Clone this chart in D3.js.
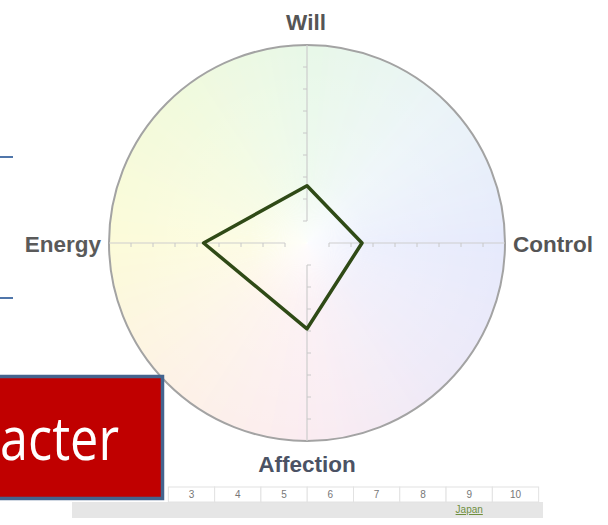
<!DOCTYPE html>
<html>
<head>
<meta charset="utf-8">
<script src="https://cdn.jsdelivr.net/npm/d3@7"></script>
<style>
  html, body { margin: 0; padding: 0; background: #fff; overflow: hidden; }
</style>
</head>
<body>
<div id="radar"></div>
<script>

// Set dimensions for the plot
const width = 608;
const height = 525;
const center = {x: 307, y: 243};
const radius = 198;

// Chart data
const axes = ['Will', 'Control', 'Affection', 'Energy'];
const scores = [2.6, 2.5, 3.9, 4.7];
const axisTicks = [1, 2, 3, 4, 5, 6, 7, 8];
const rulerTicks = [3, 4, 5, 6, 7, 8, 9, 10];

// Background tint around the circle (clockwise from the top)
const tintAngles = [0, 45, 90, 135, 180, 225, 270, 315, 360];
const tintColors = ['#e8f8e8', '#ebf4f8', '#e6eafc', '#eeeaf8', '#fbecf1',
  '#fdf2e6', '#fcfbd9', '#f2fadc', '#e8f8e8'];

const svg = d3
.select("#radar")
.append("svg")
.attr("width", width)
.attr("height", height)
.attr("viewBox", [0, 0, width, height]);

// Radial scale: 9 units from center to the rim
const rScale = d3.scaleLinear()
.domain([0, 9])
.range([0, radius]);

// Angle of each axis, clockwise from the top
const angle = d3.scalePoint()
.domain(axes)
.range([0, 2 * Math.PI * 3 / 4]);

/*

  Background

*/

const tint = d3.scaleLinear()
.domain(tintAngles)
.range(tintColors)
.interpolate(d3.interpolateRgb);

const arc = d3.arc()
.innerRadius(0)
.outerRadius(radius);

const slices = d3.range(0, 360, 2);
const bg = svg.append("g")
.attr("transform", `translate(${center.x},${center.y})`);

bg.selectAll("path")
.data(slices)
.enter()
.append("path")
.attr("d", d => arc({startAngle: (d - 1.2) * Math.PI / 180,
  endAngle: (d + 1.2) * Math.PI / 180}))
.attr("fill", d => tint(d));

// Whitish center fading out
const defs = svg.append("defs");
const glow = defs.append("radialGradient").attr("id", "glow");
glow.append("stop").attr("offset", "0%").attr("stop-color", "#fff").attr("stop-opacity", 0.8);
glow.append("stop").attr("offset", "30%").attr("stop-color", "#fff").attr("stop-opacity", 0.3);
glow.append("stop").attr("offset", "100%").attr("stop-color", "#fff").attr("stop-opacity", 0);

bg.append("circle")
.attr("r", radius)
.attr("fill", "url(#glow)");

bg.append("circle")
.attr("r", radius)
.attr("fill", "none")
.attr("stroke", "#a3a3a3")
.attr("stroke-width", 2);

/*

  Axes

*/

const axisG = bg.append("g");

axisG.selectAll(".axis")
.data(axes)
.enter()
.append("line")
.attr("class", "axis")
.attr("x1", d => rScale(1) * Math.sin(angle(d)))
.attr("y1", d => -rScale(1) * Math.cos(angle(d)))
.attr("x2", d => rScale(9) * Math.sin(angle(d)))
.attr("y2", d => -rScale(9) * Math.cos(angle(d)))
.attr("stroke", "#cdcdcd")
.attr("stroke-width", 1.2);

// Small ticks on one side of every axis
const tickData = [];
axes.forEach(a => axisTicks.forEach(t => tickData.push({axis: a, t: t})));

axisG.selectAll(".tick")
.data(tickData)
.enter()
.append("line")
.attr("class", "tick")
.attr("x1", d => rScale(d.t) * Math.sin(angle(d.axis)))
.attr("y1", d => -rScale(d.t) * Math.cos(angle(d.axis)))
.attr("x2", d => rScale(d.t) * Math.sin(angle(d.axis)) - 4 * Math.cos(angle(d.axis)))
.attr("y2", d => -rScale(d.t) * Math.cos(angle(d.axis)) + 4 * Math.abs(Math.sin(angle(d.axis))))
.attr("stroke", "#c8c8c8")
.attr("stroke-width", 1);

/*

  Shape

*/

const line = d3.lineRadial()
.angle((d, i) => angle(axes[i]))
.radius(d => rScale(d))
.curve(d3.curveLinearClosed);

bg.append("path")
.datum(scores)
.attr("d", line)
.attr("fill", "none")
.attr("stroke", "#2f4a16")
.attr("stroke-width", 3.5)
.attr("stroke-linejoin", "round");

/*

  Labels

*/

const labelPos = {
  'Will': {x: 306, y: 30, anchor: "middle", color: "#555"},
  'Control': {x: 513, y: 252, anchor: "start", color: "#555"},
  'Affection': {x: 307, y: 472, anchor: "middle", color: "#4b5264"},
  'Energy': {x: 101, y: 252, anchor: "end", color: "#5a5a5a"}
};

svg.selectAll(".label")
.data(axes)
.enter()
.append("text")
.attr("class", "label")
.attr("x", d => labelPos[d].x)
.attr("y", d => labelPos[d].y)
.attr("text-anchor", d => labelPos[d].anchor)
.attr("fill", d => labelPos[d].color)
.attr("font-family", "Liberation Sans, Arial, sans-serif")
.attr("font-weight", "bold")
.attr("font-size", "22.5px")
.text(d => d);

/*

  Ruler strip at the bottom

*/

const xRuler = d3.scaleLinear()
.domain([3, 10])
.range([191.5, 515.5]);
const cellW = xRuler(4) - xRuler(3);

svg.append("rect")
.attr("x", 72)
.attr("y", 502)
.attr("width", 471)
.attr("height", 16)
.attr("fill", "#e6e6e6");

svg.selectAll(".cell")
.data(rulerTicks)
.enter()
.append("rect")
.attr("class", "cell")
.attr("x", d => xRuler(d) - cellW / 2)
.attr("y", 487)
.attr("width", cellW)
.attr("height", 15)
.attr("fill", "#fff")
.attr("stroke", "#e2e2e2")
.attr("stroke-width", 1);

svg.selectAll(".num")
.data(rulerTicks)
.enter()
.append("text")
.attr("class", "num")
.attr("x", d => xRuler(d))
.attr("y", 498)
.attr("text-anchor", "middle")
.attr("fill", "#777")
.attr("font-family", "Liberation Sans, Arial, sans-serif")
.attr("font-size", "10px")
.text(d => d);

svg.append("text")
.attr("x", xRuler(9))
.attr("y", 513)
.attr("text-anchor", "middle")
.attr("fill", "#6f8f3f")
.attr("text-decoration", "underline")
.attr("font-family", "Liberation Sans, Arial, sans-serif")
.attr("font-size", "10px")
.text("Japan");

/*

  Slide decorations

*/

svg.selectAll(".rule")
.data([157, 298])
.enter()
.append("line")
.attr("class", "rule")
.attr("x1", 0)
.attr("x2", 13)
.attr("y1", d => d)
.attr("y2", d => d)
.attr("stroke", "#5076aa")
.attr("stroke-width", 2);

svg.append("rect")
.attr("x", -10)
.attr("y", 376.5)
.attr("width", 172.5)
.attr("height", 122)
.attr("fill", "#c00000")
.attr("stroke", "#44648e")
.attr("stroke-width", 3.5);

svg.append("text")
.attr("x", 0)
.attr("y", 460)
.attr("fill", "#fff")
.attr("font-family", "Open Sans, Noto Sans, sans-serif")
.attr("font-size", "60px")
.attr("textLength", 119)
.attr("lengthAdjust", "spacingAndGlyphs")
.text("acter");

</script>
</body>
</html>
